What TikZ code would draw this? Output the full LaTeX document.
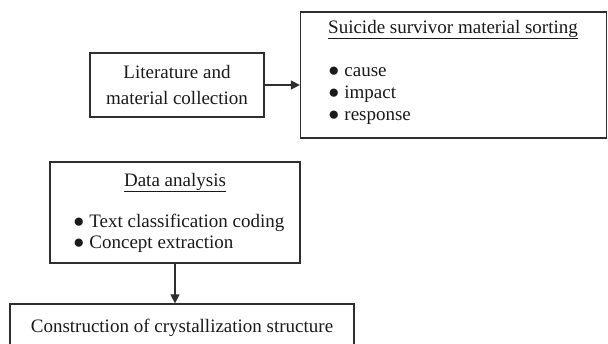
\documentclass[tikz,border=0pt]{standalone}
\usepackage{fontspec}
\setmainfont{Liberation Serif}
\usepackage{xcolor}
\usepackage{tikz}
\usetikzlibrary{arrows.meta}
\definecolor{ink}{HTML}{1A1A1A}
\definecolor{frame}{HTML}{2E2E2E}
\tikzset{
  box/.style={draw=frame, line width=1.2pt, inner sep=0pt, text=ink, font=\fontsize{19}{26}\selectfont, align=center},
  link/.style={draw=frame, line width=1.2pt, -{Triangle[length=9pt,width=9pt]}},
  lab/.style={text=ink, font=\fontsize{19}{22}\selectfont, inner sep=0pt},
}
\begin{document}
\begin{tikzpicture}[x=1pt,y=-1pt]
  \useasboundingbox (0,0) rectangle (608,343);
  \node[box, minimum width=174pt, minimum height=64pt] (lit) at (177,85) {Literature and\\material collection};
  \node[box, minimum width=306pt, minimum height=126pt] (sur) at (453.5,75) {};
  \node[lab, anchor=base] (surt) at (453,33) {\underline{Suicide survivor material sorting}};
  \foreach \t [count=\i] in {cause,impact,response}
    \node[lab, anchor=base west] (sur\i) at (328,{54+22*\i}) {● \t};
  \node[box, minimum width=250pt, minimum height=101pt] (dat) at (175,212.5) {};
  \node[lab, anchor=base] (datt) at (175,186) {\underline{Data analysis}};
  \node[lab, anchor=base west] (dat1) at (73,227) {● Text classification coding};
  \node[lab, anchor=base west] (dat2) at (73,248) {● Concept extraction};
  \node[box, minimum width=344pt, minimum height=48pt] (con) at (182,328) {Construction of crystallization structure};
  \draw[link] (lit.east) -- (lit.east -| sur.west);
  \draw[link] (dat.south) -- (dat.south |- con.north);
\end{tikzpicture}
\end{document}
